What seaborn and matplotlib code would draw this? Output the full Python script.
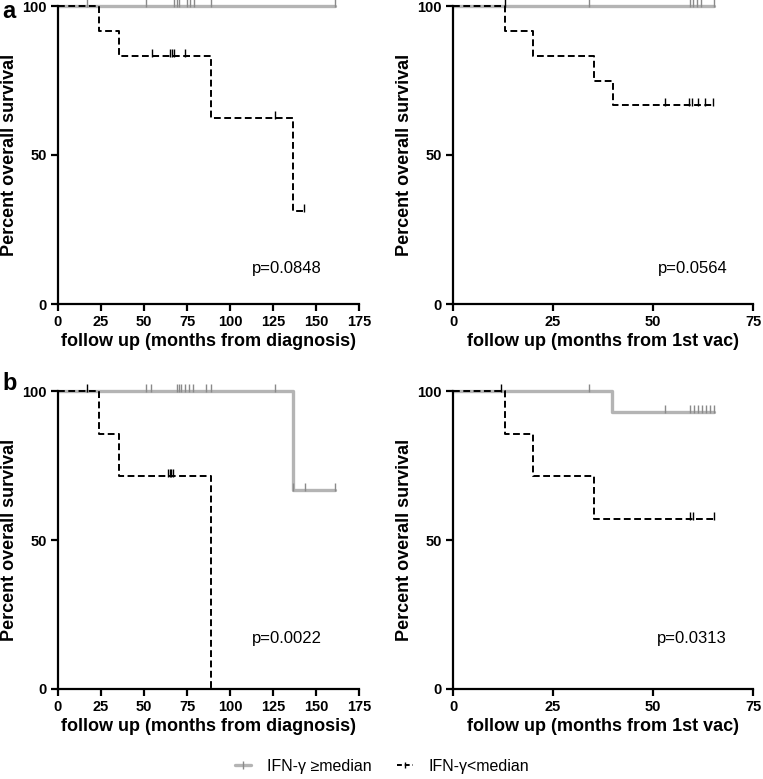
import numpy as np
import pandas as pd
import matplotlib
matplotlib.use("Agg")
import matplotlib.pyplot as plt
from matplotlib.lines import Line2D
import seaborn as sns

sns.set_style("ticks", {"axes.edgecolor": "black", "text.color": "black",
                        "axes.labelcolor": "black", "xtick.color": "black",
                        "ytick.color": "black"})
plt.rcParams['font.family'] = ['Liberation Sans', 'DejaVu Sans']

# ---------------- data ----------------
# Panel a, left (months from diagnosis)
aL_hi_t = [0, 161.2]
aL_hi_s = [100, 100]
aL_hi_cens = [17, 50.9, 67.6, 69.0, 70.3, 74.8, 76.7, 79.0, 89.0, 161.2]
aL_lo_t = [0, 24, 35.5, 89, 136.4, 142.8]
aL_lo_s = [100, 91.7, 83.3, 62.5, 31.25, 31.25]
aL_lo_cens = [54.4, 65.0, 66.4, 67.6, 73.8, 126.2, 142.8]

# Panel a, right (months from 1st vac)
aR_hi_t = [0, 65.3]
aR_hi_s = [100, 100]
aR_hi_cens = [34.1, 59.2, 60.0, 61.0, 62.0, 65.3]
aR_lo_t = [0, 13.05, 20.1, 35.2, 40.1, 65.0]
aR_lo_s = [100, 91.7, 83.3, 75.0, 66.7, 66.7]
aR_lo_cens = [12.9, 53.1, 59.0, 59.8, 61.3, 62.9, 65.0]

# Panel b, left (months from diagnosis)
bL_hi_t = [0, 136.4, 161.2]
bL_hi_s = [100, 66.7, 66.7]
bL_hi_cens = [50.9, 53.8, 69.0, 70.5, 71.8, 74.0, 76.3, 78.7, 86.2, 89.0,
              126.4, 136.4, 143.4, 161.2]
bL_lo_t = [0, 23.9, 35.7, 89.1]
bL_lo_s = [100, 85.7, 71.4, 0]
bL_lo_cens = [17.0, 64.1, 65.1, 65.8, 67.0]

# Panel b, right (months from 1st vac)
bR_hi_t = [0, 39.8, 65.2]
bR_hi_s = [100, 92.9, 92.9]
bR_hi_cens = [34.1, 53.1, 59.2, 60.2, 61.3, 62.2, 63.2, 64.2, 65.2]
bR_lo_t = [0, 13.05, 20.1, 35.2, 65.2]
bR_lo_s = [100, 85.7, 71.4, 57.1, 57.1]
bR_lo_cens = [12.0, 59.2, 60.0, 65.2]

p_values = ["p=0.0848", "p=0.0564", "p=0.0022", "p=0.0313"]
xlabels = ["follow up (months from diagnosis)", "follow up (months from 1st vac)",
           "follow up (months from diagnosis)", "follow up (months from 1st vac)"]
ylabel = "Percent overall survival"
legend_labels = ["IFN-γ ≥median", "IFN-γ<median"]
panel_letters = ["a", "b"]

GRAY = "#b4b4b4"
DASH = (0, (3.5, 1.8))

panels = [
    (aL_hi_t, aL_hi_s, aL_hi_cens, aL_lo_t, aL_lo_s, aL_lo_cens, 175, 25, (113, 12)),
    (aR_hi_t, aR_hi_s, aR_hi_cens, aR_lo_t, aR_lo_s, aR_lo_cens, 75, 25, (51.2, 12)),
    (bL_hi_t, bL_hi_s, bL_hi_cens, bL_lo_t, bL_lo_s, bL_lo_cens, 175, 25, (113, 17)),
    (bR_hi_t, bR_hi_s, bR_hi_cens, bR_lo_t, bR_lo_s, bR_lo_cens, 75, 25, (51, 17)),
]

W, H = 763, 779
fig = plt.figure(figsize=(W / 100, H / 100), dpi=100)

# axes rectangles in pixels: (left, right, top, bottom)
rects_px = [(58, 359, 6, 304), (453, 753, 6, 304), (58, 359, 391, 689), (453, 753, 391, 689)]


def surv_at(times, surv, t):
    idx = np.searchsorted(np.asarray(times), t, side="right") - 1
    return np.asarray(surv)[np.clip(idx, 0, len(surv) - 1)]


for i, (hi_t, hi_s, hi_c, lo_t, lo_s, lo_c, xmax, xstep, ptxt) in enumerate(panels):
    l, r, t, b = rects_px[i]
    ax = fig.add_axes([l / W, 1 - b / H, (r - l) / W, (b - t) / H])

    df_hi = pd.DataFrame({"t": hi_t, "s": hi_s})
    df_lo = pd.DataFrame({"t": lo_t, "s": lo_s})
    sns.lineplot(data=df_hi, x="t", y="s", ax=ax, color=GRAY, lw=2.4,
                 drawstyle="steps-post", estimator=None, sort=False, clip_on=False, zorder=2)
    sns.lineplot(data=df_lo, x="t", y="s", ax=ax, color="black", lw=1.4, linestyle=DASH,
                 drawstyle="steps-post", estimator=None, sort=False, clip_on=False, zorder=4)

    c_hi = pd.DataFrame({"t": hi_c, "s": surv_at(hi_t, hi_s, hi_c) + 1.0})
    c_lo = pd.DataFrame({"t": lo_c, "s": surv_at(lo_t, lo_s, lo_c) + 1.0})
    sns.scatterplot(data=c_hi, x="t", y="s", ax=ax, marker="|", s=30, color="#8a8a8a",
                    linewidth=1.0, clip_on=False, zorder=3)
    sns.scatterplot(data=c_lo, x="t", y="s", ax=ax, marker="|", s=30, color="black",
                    linewidth=1.0, clip_on=False, zorder=5)

    ax.set_xlim(0, xmax)
    ax.set_ylim(0, 100)
    ax.set_xticks(np.arange(0, xmax + 1, xstep))
    ax.set_yticks([0, 50, 100])
    sns.despine(ax=ax)
    for sp in ("left", "bottom"):
        ax.spines[sp].set_linewidth(1.6)
        ax.spines[sp].set_color("black")
    ax.tick_params(width=1.6, length=5, direction="out", labelsize=10.5, pad=3,
                   color="black", labelcolor="black")
    for lab in ax.get_xticklabels() + ax.get_yticklabels():
        lab.set_fontweight("bold")
    ax.set_xlabel(xlabels[i], fontsize=13, fontweight="bold", labelpad=3, color="black")
    ax.set_ylabel(ylabel, fontsize=13, fontweight="bold", labelpad=3, color="black")
    ax.text(ptxt[0], ptxt[1], p_values[i], fontsize=12, va="center", ha="left", color="black")

fig.text(2 / W, 1 - 0.5 / H, panel_letters[0], fontsize=17, fontweight="bold", va="top", ha="left")
fig.text(2 / W, 1 - 372 / H, panel_letters[1], fontsize=17, fontweight="bold", va="top", ha="left")

handles = [
    Line2D([], [], color=GRAY, lw=2.4, marker="|", markersize=6, markeredgecolor="#8a8a8a"),
    Line2D([], [], color="black", lw=1.4, linestyle=(0, (2.5, 1.5)), marker="|", markersize=5),
]
fig.legend(handles, legend_labels, loc="center", bbox_to_anchor=(382 / W, 1 - 766 / H),
           ncol=2, frameon=False, fontsize=11.5, handlelength=1.0, columnspacing=1.6,
           handletextpad=1.0, labelcolor="black")

fig.savefig("out.png", dpi=100)
